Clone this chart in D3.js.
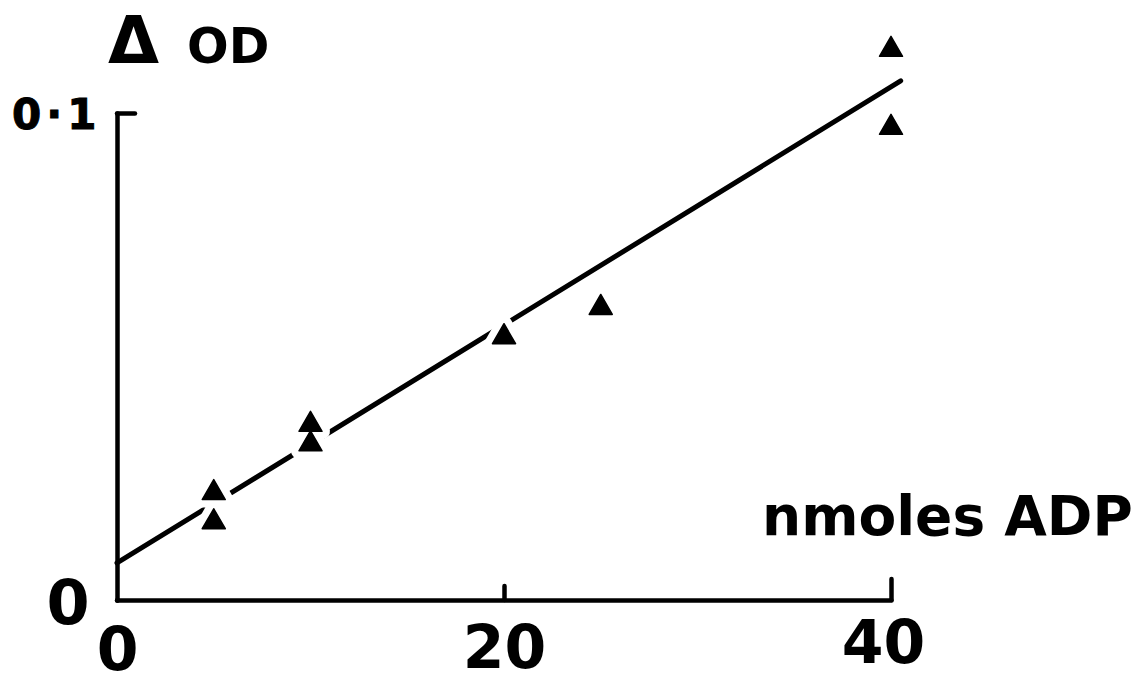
<!DOCTYPE html>
<html>
<head>
<meta charset="utf-8">
<script src="https://cdn.jsdelivr.net/npm/d3@7"></script>
<style>
  html, body { margin: 0; padding: 0; background: #fff; }
  svg { display: block; }
  text { font-family: "DejaVu Sans", "Liberation Sans", sans-serif; font-weight: bold; fill: #000; }
</style>
</head>
<body>
<svg id="chart" width="1141" height="684"></svg>
<script>
// ADP added (nmol) and the resulting change in optical density
const adpNmol  = [5, 5, 10, 10, 20, 25, 40, 40];
const deltaOD  = [0.022, 0.016, 0.036, 0.032, 0.054, 0.060, 0.113, 0.097];

// fitted calibration line (end points)
const fitX = [0, 40.5];
const fitY = [0.0076, 0.1066];

// axis ticks
const xTicks = [0, 20, 40];
const yTicks = [0, 0.1];
const yTickLabels = ["0", "0·1"];

const svg = d3.select("#chart");
const ink = "#000";

const x = d3.scaleLinear().domain([0, 40]).range([117, 891]);
const y = d3.scaleLinear().domain([0, 0.1]).range([600, 113]);

// ----- axes -----
const xAxis = d3.axisBottom(x).tickValues(xTicks).tickSizeOuter(0).tickFormat(d3.format("d"));
const gx = svg.append("g").attr("transform", `translate(0,${y(0)})`).call(xAxis);

const yAxis = d3.axisLeft(y).tickValues(yTicks).tickSizeOuter(0)
  .tickFormat((d, i) => yTickLabels[i]);
const gy = svg.append("g").attr("transform", `translate(${x(0)},0)`).call(yAxis);

[gx, gy].forEach(g => {
  g.select(".domain").attr("stroke", ink).attr("stroke-width", 4.5)
    .attr("stroke-linejoin", "round").attr("stroke-linecap", "round");
  g.selectAll(".tick line").attr("stroke", ink).attr("stroke-width", 4.5)
    .attr("stroke-linecap", "round");
});

// inward ticks of differing lengths on the x axis
const xTickLen = {0: 0, 20: 14, 40: 21};
gx.selectAll(".tick line").attr("y2", d => -xTickLen[d]);
gx.selectAll(".tick text")
  .attr("font-size", 60)
  .attr("text-anchor", "middle")
  .attr("dy", null)
  .attr("x", d => d === 40 ? -8 : 0)
  .attr("y", d => d === 0 ? 70 : (d === 40 ? 63 : 68))
  .attr("fill", ink);

// inward tick at 0.1 on the y axis
gy.selectAll(".tick line").attr("x2", d => d === 0 ? 0 : 18);
gy.selectAll(".tick text")
  .attr("dy", null)
  .attr("fill", ink)
  .attr("stroke", d => d === 0 ? null : ink)
  .attr("stroke-width", d => d === 0 ? null : 1)
  .attr("font-size", d => d === 0 ? 62 : 42)
  .attr("text-anchor", d => d === 0 ? "middle" : "start")
  .attr("letter-spacing", d => d === 0 ? null : 5)
  .attr("x", d => d === 0 ? -49 : -105)
  .attr("y", d => d === 0 ? 23 : 15);

// ----- fitted line -----
const fitPts = fitX.map((v, i) => [v, fitY[i]]);
svg.append("path")
  .attr("d", d3.line().x(d => x(d[0])).y(d => y(d[1]))(fitPts))
  .attr("fill", "none")
  .attr("stroke", ink)
  .attr("stroke-width", 5)
  .attr("stroke-linecap", "round");

// ----- data points: filled triangles, the line broken around each -----
const tri = d3.symbol().type(d3.symbolTriangle).size(230);
const pts = adpNmol.map((v, i) => ({ x: v, y: deltaOD[i] }));

svg.append("g").selectAll("path")
  .data(pts).join("path")
  .attr("transform", d => `translate(${x(d.x)},${y(d.y)})`)
  .attr("d", tri)
  .attr("fill", "#fff")
  .attr("stroke", "#fff")
  .attr("stroke-width", 16)
  .attr("stroke-linejoin", "round");

svg.append("g").selectAll("path")
  .data(pts).join("path")
  .attr("transform", d => `translate(${x(d.x)},${y(d.y)})`)
  .attr("d", tri)
  .attr("fill", ink)
  .attr("stroke", ink)
  .attr("stroke-width", 1.5)
  .attr("stroke-linejoin", "round");

// ----- axis titles -----
svg.append("text")
  .attr("x", 108).attr("y", 63)
  .attr("font-size", 66)
  .text("Δ");
svg.append("text")
  .attr("x", 187).attr("y", 63)
  .attr("font-size", 49)
  .text("OD");

svg.append("text")
  .attr("x", 762).attr("y", 535)
  .attr("font-size", 55)
  .text("nmoles ADP");
</script>
</body>
</html>
